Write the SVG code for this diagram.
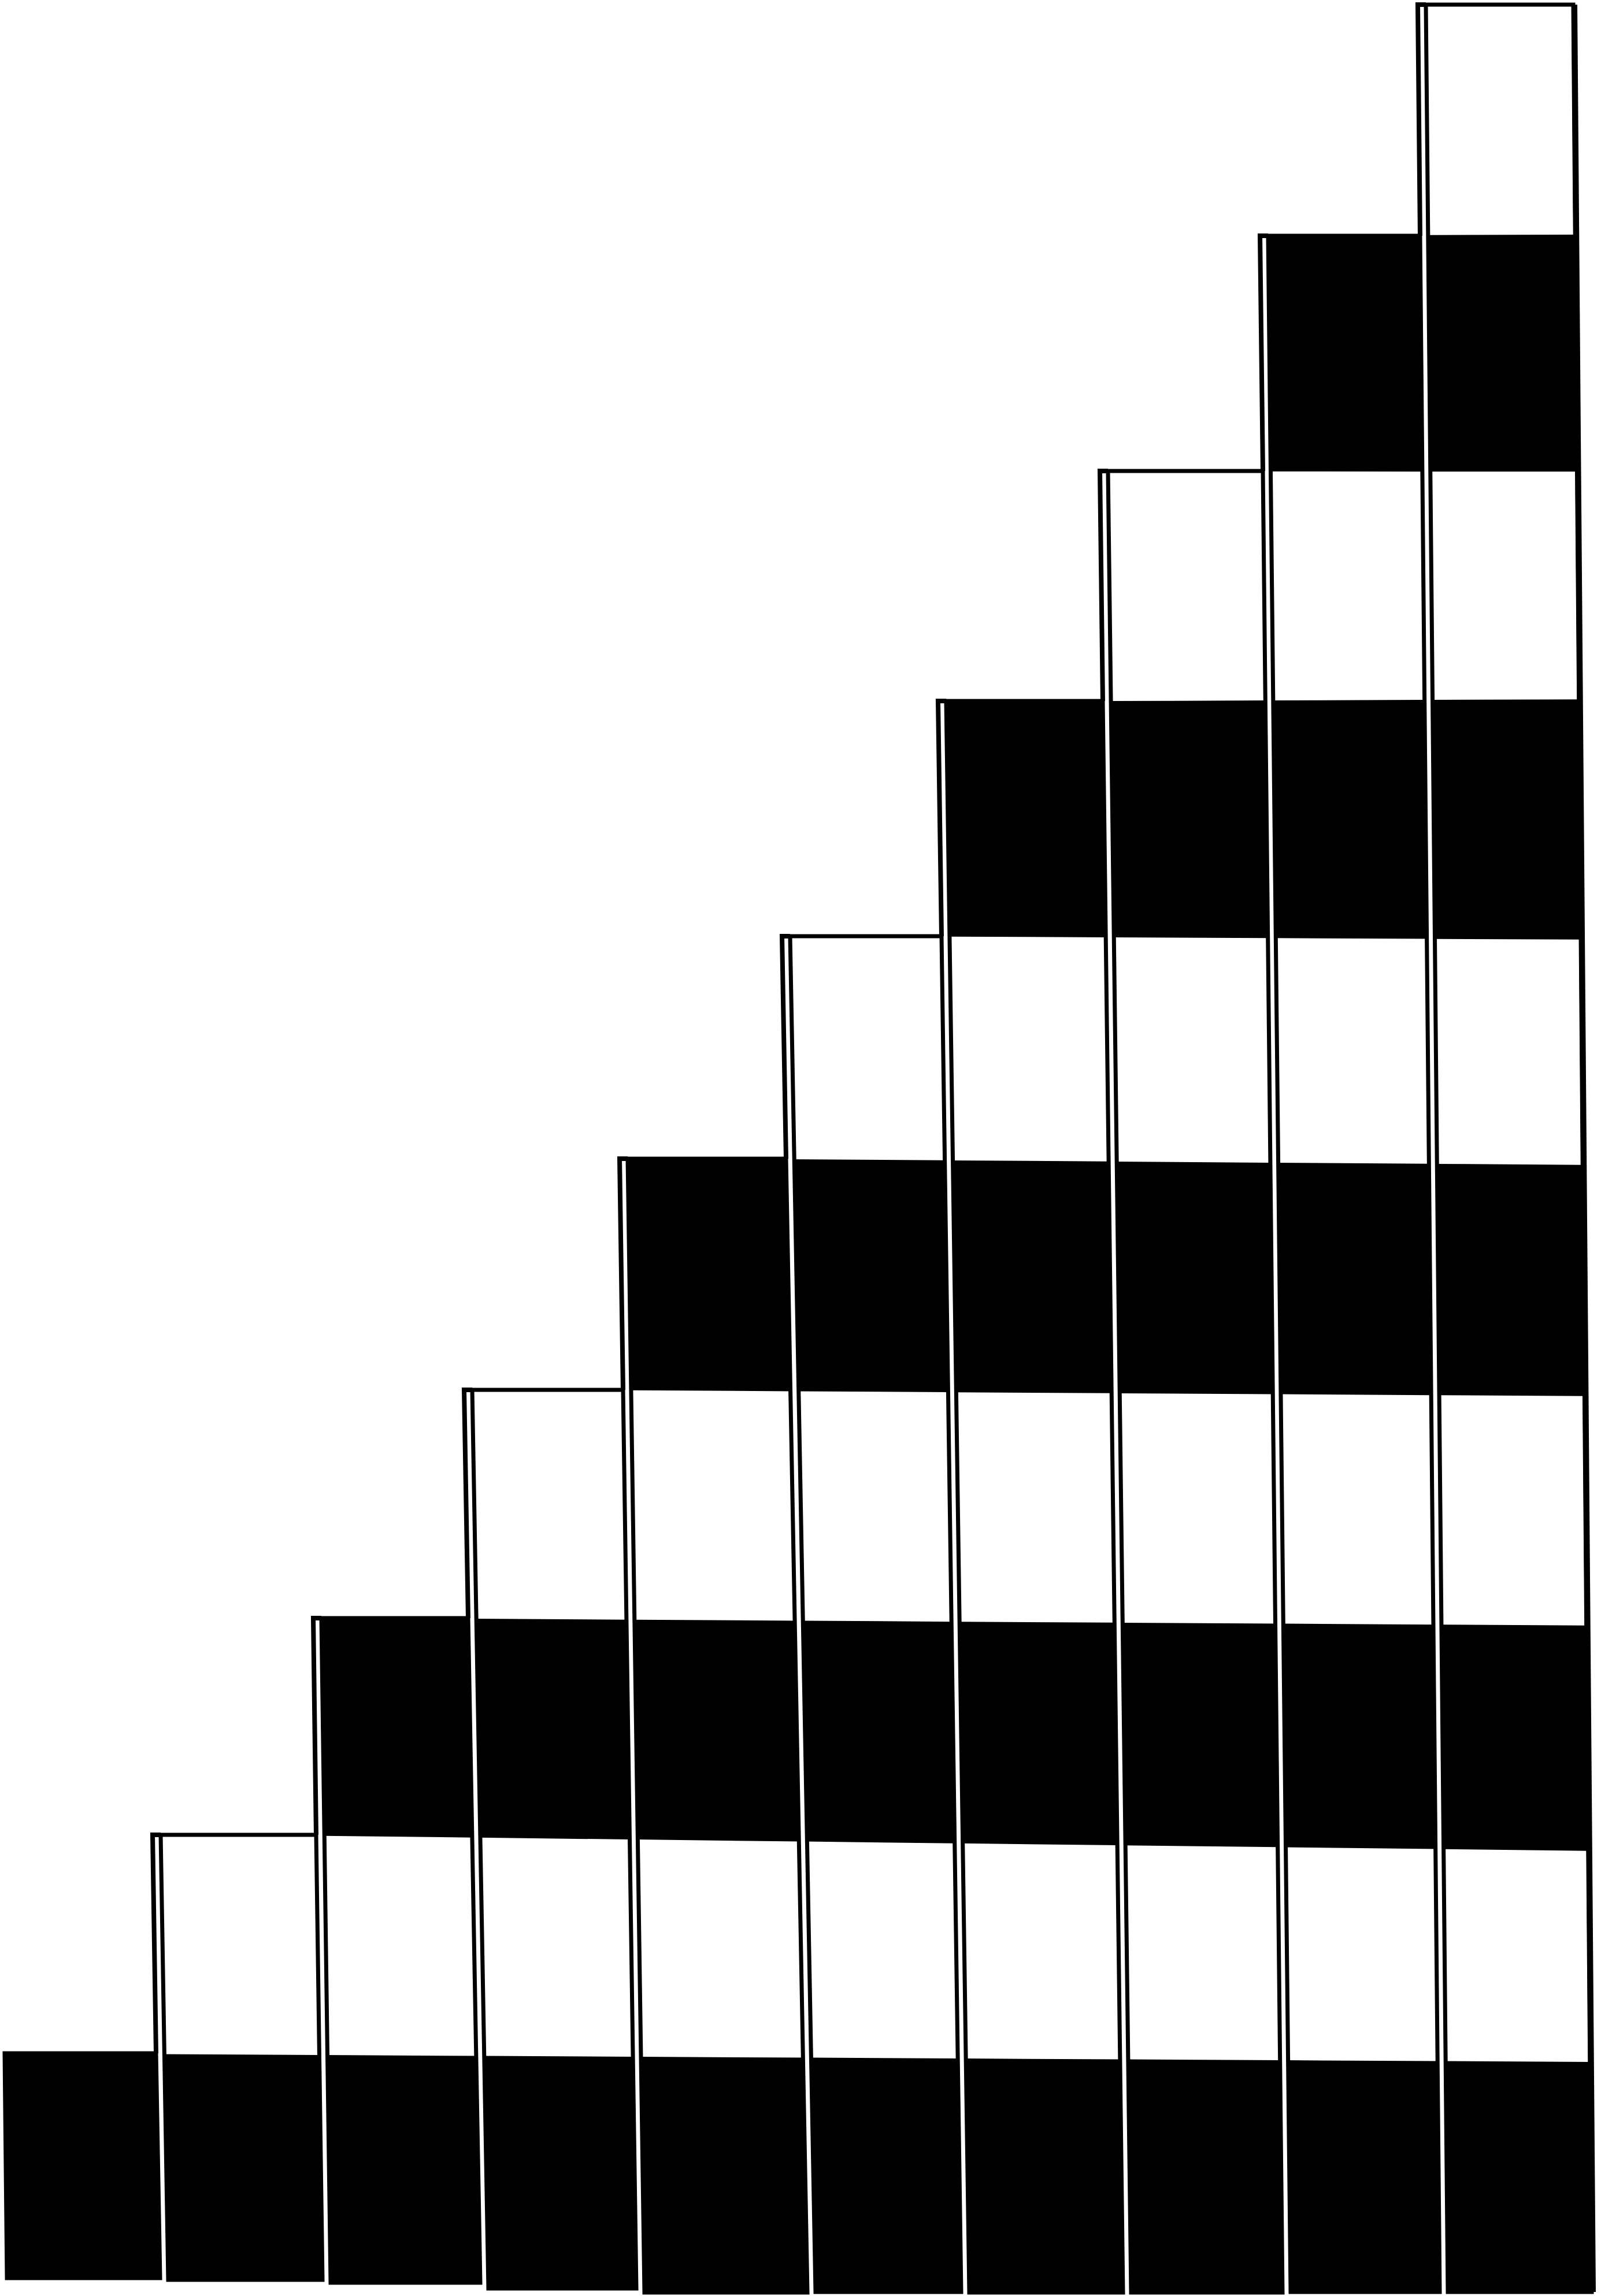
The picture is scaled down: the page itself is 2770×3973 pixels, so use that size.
<svg xmlns="http://www.w3.org/2000/svg" xmlns:xlink="http://www.w3.org/1999/xlink" width="2770" height="3973" viewBox="0 0 2770 3973">
<style>
.ol{fill:none;stroke:#000;stroke-width:7;stroke-linejoin:miter}
.rs{fill:none;stroke:#000;stroke-width:8;stroke-linejoin:miter}
.bd{fill:#000}
</style>
<defs>
<g id="bands" class="bd">
<polygon points="0,3553 2770,3568 2770,3973 0,3973"/>
<polygon points="0,2796 2770,2813 2770,3203 0,3170"/>
<polygon points="0,1996 2770,2016 2770,2416 0,2399"/>
<polygon points="0,1220 2770,1210 2770,1626 0,1613"/>
<polygon points="0,412 2770,406 2770,816 0,815"/>
</g>
<clipPath id="cp0"><polygon points="8,3553 270,3553 277,3942 12,3942"/></clipPath>
<clipPath id="cp1"><polygon points="278,3175 547,3175 558,3945 291,3945"/></clipPath>
<clipPath id="cp2"><polygon points="556,2800 810,2800 831,3950 572,3950"/></clipPath>
<clipPath id="cp3"><polygon points="817,2405 1078,2405 1101,3960 845,3960"/></clipPath>
<clipPath id="cp4"><polygon points="1086,2005 1360,2005 1397,3967 1115,3967"/></clipPath>
<clipPath id="cp5"><polygon points="1367,1620 1629,1620 1663,3966 1411,3966"/></clipPath>
<clipPath id="cp6"><polygon points="1637,1213 1908,1213 1943,3967 1677,3967"/></clipPath>
<clipPath id="cp7"><polygon points="1917,815 2185,815 2219,3967 1957,3967"/></clipPath>
<clipPath id="cp8"><polygon points="2194,408 2457,408 2491,3966 2233,3966"/></clipPath>
<clipPath id="cp9"><polygon points="2467,8 2722,8 2754,3966 2505,3966"/></clipPath>
</defs>
<rect x="0" y="0" width="2770" height="3973" fill="#fff"/>
<g id="col0">
<use href="#bands" xlink:href="#bands" clip-path="url(#cp0)"/>
<polygon class="ol" points="8,3553 270,3553 277,3942 12,3942"/>
</g>
<g id="col1">
<use href="#bands" xlink:href="#bands" clip-path="url(#cp1)"/>
<polygon class="ol" points="278,3175 547,3175 558,3945 291,3945"/>
<polyline class="rs" points="278,3175 264,3175 270,3553"/>
</g>
<g id="col2">
<use href="#bands" xlink:href="#bands" clip-path="url(#cp2)"/>
<polygon class="ol" points="556,2800 810,2800 831,3950 572,3950"/>
<polyline class="rs" points="556,2800 542,2800 547,3175"/>
</g>
<g id="col3">
<use href="#bands" xlink:href="#bands" clip-path="url(#cp3)"/>
<polygon class="ol" points="817,2405 1078,2405 1101,3960 845,3960"/>
<polyline class="rs" points="817,2405 803,2405 810,2800"/>
</g>
<g id="col4">
<use href="#bands" xlink:href="#bands" clip-path="url(#cp4)"/>
<polygon class="ol" points="1086,2005 1360,2005 1397,3967 1115,3967"/>
<polyline class="rs" points="1086,2005 1072,2005 1078,2405"/>
</g>
<g id="col5">
<use href="#bands" xlink:href="#bands" clip-path="url(#cp5)"/>
<polygon class="ol" points="1367,1620 1629,1620 1663,3966 1411,3966"/>
<polyline class="rs" points="1367,1620 1353,1620 1360,2005"/>
</g>
<g id="col6">
<use href="#bands" xlink:href="#bands" clip-path="url(#cp6)"/>
<polygon class="ol" points="1637,1213 1908,1213 1943,3967 1677,3967"/>
<polyline class="rs" points="1637,1213 1623,1213 1629,1620"/>
</g>
<g id="col7">
<use href="#bands" xlink:href="#bands" clip-path="url(#cp7)"/>
<polygon class="ol" points="1917,815 2185,815 2219,3967 1957,3967"/>
<polyline class="rs" points="1917,815 1903,815 1908,1213"/>
</g>
<g id="col8">
<use href="#bands" xlink:href="#bands" clip-path="url(#cp8)"/>
<polygon class="ol" points="2194,408 2457,408 2491,3966 2233,3966"/>
<polyline class="rs" points="2194,408 2180,408 2185,815"/>
</g>
<g id="col9">
<use href="#bands" xlink:href="#bands" clip-path="url(#cp9)"/>
<polygon class="ol" points="2467,8 2722,8 2754,3966 2505,3966"/>
<polyline class="rs" points="2467,8 2453,8 2457,408"/>
<line x1="2724" y1="8" x2="2756" y2="3966" stroke="#000" stroke-width="10"/>
</g>
</svg>
